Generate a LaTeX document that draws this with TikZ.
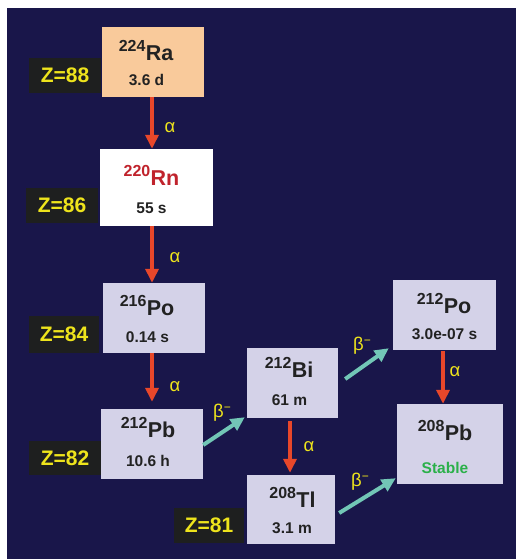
\documentclass[tikz,border=0pt]{standalone}
\usepackage{fontspec}
\setmainfont{Liberation Sans}
\usetikzlibrary{arrows.meta,calc}
\definecolor{bgc}{HTML}{19164A}
\definecolor{peach}{HTML}{F9CA9B}
\definecolor{lav}{HTML}{D4D2E8}
\definecolor{zbg}{HTML}{1E1F1F}
\definecolor{ylw}{HTML}{EEE41C}
\definecolor{redarr}{HTML}{E8472A}
\definecolor{teal}{HTML}{72C6B6}
\definecolor{rntext}{HTML}{C0232C}
\definecolor{grn}{HTML}{2BB04A}
\definecolor{txt}{HTML}{222222}
\newcommand{\nucl}[2]{\raisebox{9pt}{\fontsize{16}{16}\selectfont #1}\kern0.3pt{\fontsize{21.5}{21.5}\selectfont #2}}
\begin{document}
\begin{tikzpicture}[x=1pt,y=-1pt,
  box/.style={inner sep=0pt, draw=none, fill=lav},
  zbox/.style={inner sep=0pt, fill=zbg, text=ylw, font=\bfseries\fontsize{21}{21}\selectfont, minimum height=35pt, minimum width=72pt},
  sym/.style={inner sep=0pt, anchor=base, text=txt, font=\bfseries},
  hl/.style={inner sep=0pt, anchor=base, text=txt, font=\bfseries\fontsize{15.5}{15.5}\selectfont},
  aarr/.style={draw=redarr, line width=4pt, -{Triangle[length=14pt,width=13pt]}},
  barr/.style={draw=teal, line width=4pt, -{Triangle[length=14pt,width=13pt]}},
  lbl/.style={inner sep=0pt, text=ylw, font=\fontsize{18.5}{18.5}\selectfont}]
\useasboundingbox (0,0) rectangle (516,559);
\fill[bgc] (7,8) rectangle (516,559);
% boxes
\node[box, fill=peach, minimum width=102pt, minimum height=70pt] (ra) at (153,62) {};
\node[box, fill=white, minimum width=113pt, minimum height=77pt] (rn) at (156.5,187.5) {};
\node[box, minimum width=102pt, minimum height=70pt] (po) at (154,318) {};
\node[box, minimum width=102pt, minimum height=70pt] (pb) at (152,444) {};
\node[box, minimum width=91pt, minimum height=70pt] (bi) at (292.5,383) {};
\node[box, minimum width=88pt, minimum height=69pt] (tl) at (291,509.5) {};
\node[box, minimum width=103pt, minimum height=70pt] (pob) at (444.5,315) {};
\node[box, minimum width=106pt, minimum height=80pt] (pbs) at (450,444) {};
% texts
\node[sym] (ra-s) at (146,61) {\nucl{224}{Ra}};
\node[hl] (ra-t) at (146.5,86) {3.6 d};
\node[sym, text=rntext] (rn-s) at (151.5,185) {\nucl{220}{Rn}};
\node[hl] (rn-t) at (151.5,213) {55 s};
\node[sym] (po-s) at (147,315) {\nucl{216}{Po}};
\node[hl] (po-t) at (147.5,342) {0.14 s};
\node[sym] (pb-s) at (148,437) {\nucl{212}{Pb}};
\node[hl] (pb-t) at (148,466) {10.6 h};
\node[sym] (bi-s) at (289,377) {\nucl{212}{Bi}};
\node[hl] (bi-t) at (289.5,405) {61 m};
\node[sym] (tl-s) at (292.5,507) {\nucl{208}{Tl}};
\node[hl] (tl-t) at (292,533) {3.1 m};
\node[sym] (pob-s) at (444,313) {\nucl{212}{Po}};
\node[hl] (pob-t) at (444.5,339) {3.0e-07 s};
\node[sym] (pbs-s) at (445,440) {\nucl{208}{Pb}};
\node[hl, text=grn] (pbs-t) at (445,473) {Stable};
% Z labels
\node[zbox] (z88) at (65,75.5) {Z=88};
\node[zbox] (z86) at (62,205) {Z=86};
\node[zbox, minimum height=37pt, minimum width=70pt] (z84) at (64,334.5) {Z=84};
\node[zbox, minimum height=34pt] (z82) at (65,458) {Z=82};
\node[zbox, minimum width=70pt] (z81) at (209,525.5) {Z=81};
% alpha arrows
\coordinate (a1) at ([xshift=-1pt]ra.south);
\draw[aarr] (a1) -- (a1 |- rn.north);
\coordinate (a2) at (rn.south -| a1);
\draw[aarr] (a2) -- (a2 |- po.north);
\coordinate (a3) at (po.south -| a1);
\draw[aarr, shorten >=7pt] (a3) -- (a3 |- pb.north);
\coordinate (a4) at ([xshift=-2.5pt]bi.south);
\draw[aarr, shorten <=3pt, shorten >=2pt] (a4) -- (a4 |- tl.north);
\coordinate (a5) at ([xshift=-1.5pt]pob.south);
\draw[aarr, shorten <=1pt] (a5) -- (a5 |- pbs.north);
% beta arrows
\draw[barr] ($(pb.east)+(0,1)$) -- ($(bi.south west)+(-2,-1)$);
\draw[barr] ($(bi.east)+(7,-4)$) -- ($(pob.south west)+(-4,-2)$);
\draw[barr] ($(tl.east)+(4,3.5)$) -- ($(pbs.south west)+(-1,-6)$);
% labels
\node[lbl] (la1) at (170,128) {α};
\node[lbl] (la2) at (175,258) {α};
\node[lbl] (la3) at (175,387) {α};
\node[lbl] (la4) at (309,447) {α};
\node[lbl] (la5) at (455,372) {α};
\node[lbl] (lb1) at (222,413) {β\raisebox{6.5pt}{\fontsize{12}{12}\selectfont −}};
\node[lbl] (lb2) at (362,346) {β\raisebox{6.5pt}{\fontsize{12}{12}\selectfont −}};
\node[lbl] (lb3) at (360,482) {β\raisebox{6.5pt}{\fontsize{12}{12}\selectfont −}};
\end{tikzpicture}
\end{document}
